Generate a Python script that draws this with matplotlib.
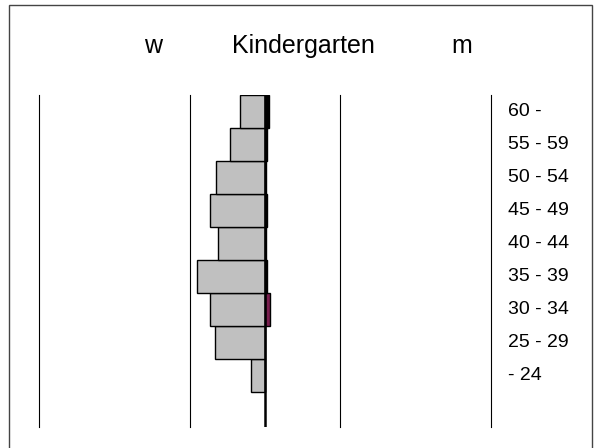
import matplotlib
matplotlib.use("Agg")
from matplotlib import pyplot as plt
from matplotlib.patches import Rectangle
from typing import List

# age groups, bottom to top
age_groups: List[str] = ["- 24", "25 - 29", "30 - 34", "35 - 39", "40 - 44",
                         "45 - 49", "50 - 54", "55 - 59", "60 -"]
women: List[float] = [1.8, 6.7, 7.3, 9.0, 6.3, 7.3, 6.5, 4.7, 3.3]
men: List[float] = [0.0, 0.05, 0.6, 0.3, 0.1, 0.3, 0.1, 0.3, 0.5]
men_colors: List[str] = ["black", "black", "#7a1f4f", "black", "black",
                         "black", "black", "black", "black"]
grid_x: List[float] = [-30, -10, 10, 30]

plt.rcParams['font.family'] = ['Liberation Sans', 'DejaVu Sans']

fig = plt.figure(figsize=(5.98, 4.48), dpi=100)
fig.patches.append(Rectangle((9 / 598, -0.05), 583 / 598, 1 - 5.5 / 448 + 0.05,
                             transform=fig.transFigure, fill=False,
                             edgecolor="#444444", linewidth=1.0))

ax = fig.add_axes([39 / 598, 1 - 427 / 448, 452 / 598, 332 / 448])
ypos = list(range(len(age_groups)))

ax.barh(ypos, [-w for w in women], height=1.0, color="#c0c0c0",
        edgecolor="black", linewidth=1.0)
ax.barh(ypos, men, height=1.0, color=men_colors, edgecolor="black",
        linewidth=1.0)

for gx in grid_x:
    ax.axvline(gx, color="black", linewidth=0.8, clip_on=False)
ax.axvline(0, color="black", linewidth=1.8)

ax.set_xlim(-30, 30)
ax.set_ylim(-1.55, 8.5)
ax.axis("off")

for y, label in zip(ypos, age_groups):
    ax.text(32.2, y, label, ha="left", va="center", fontsize=14)

fig.text(153 / 598, 1 - 46 / 448, "w", ha="center", va="center", fontsize=18)
fig.text(303 / 598, 1 - 46 / 448, "Kindergarten", ha="center", va="center",
         fontsize=18)
fig.text(462 / 598, 1 - 46 / 448, "m", ha="center", va="center", fontsize=18)

fig.savefig("out.png", dpi=100)
